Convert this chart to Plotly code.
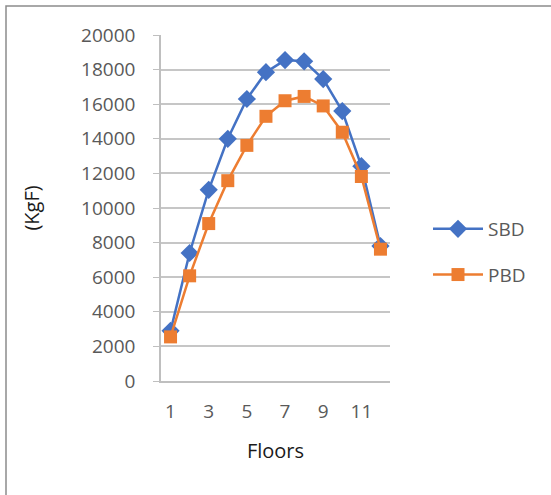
import plotly.graph_objects as go

floors = [1, 2, 3, 4, 5, 6, 7, 8, 9, 10, 11, 12]
sbd = [2900, 7400, 11050, 14000, 16300, 17850, 18550, 18480, 17450, 15600, 12420, 7800]
pbd = [2550, 6080, 9100, 11580, 13620, 15300, 16200, 16450, 15900, 14380, 11820, 7620]
x_ticks = [1, 3, 5, 7, 9, 11]
y_ticks = list(range(0, 20001, 2000))
y_labels = [str(v) for v in y_ticks]

FONT = "Open Sans"
fig = go.Figure()
fig.add_trace(go.Scatter(x=floors, y=sbd, name="SBD", mode="lines+markers", legendgroup="a",
                         line=dict(color="#4472C4", width=2.5),
                         marker=dict(symbol="diamond", size=14, color="#4472C4")))
fig.add_trace(go.Scatter(x=floors, y=pbd, name="PBD", mode="lines+markers", legendgroup="b",
                         line=dict(color="#ED7D31", width=2.5),
                         marker=dict(symbol="square", size=13, color="#ED7D31")))

L, R, T, B = 161, 161, 35, 114
W, H = 551, 495
pw, ph = W - L - R, H - T - B

def px(x):
    return (x - L) / pw

def py(y):
    return (H - B - y) / ph

fig.update_layout(
    width=W, height=H,
    margin=dict(l=L, r=R, t=T, b=B),
    paper_bgcolor="white", plot_bgcolor="white",
    font=dict(family=FONT, size=19, color="#595959"),
    showlegend=True,
    legend=dict(x=px(428), y=py(252), xanchor="left", yanchor="middle",
                font=dict(size=19, color="#595959"), itemwidth=50,
                tracegroupgap=18, bgcolor="rgba(0,0,0,0)"),
    xaxis=dict(range=[0.5, 12.5], tickvals=x_ticks, showgrid=False,
               zeroline=False, showline=True, linecolor="#bfbfbf", linewidth=1.5,
               ticks="", ticklabelstandoff=12,
               title=dict(text="Floors", font=dict(size=20, color="#1a1a1a"), standoff=21),
               fixedrange=True),
    yaxis=dict(range=[0, 20000], tickvals=y_ticks, ticktext=y_labels, showgrid=True,
               gridcolor="#c6c6c6", gridwidth=1.5, zeroline=False, showline=True,
               linecolor="#bfbfbf", linewidth=1.5, ticks="outside", ticklen=6,
               tickcolor="#bfbfbf", ticklabelstandoff=14,
               title=dict(text="(KgF)", font=dict(size=20, color="#1a1a1a"), standoff=36),
               fixedrange=True),
    shapes=[dict(type="rect", xref="paper", yref="paper",
                 x0=px(6), x1=px(700), y0=py(700), y1=py(6),
                 line=dict(color="#8c8c8c", width=1.5), fillcolor="rgba(0,0,0,0)", layer="below")],
)
fig.write_html("out.html")
